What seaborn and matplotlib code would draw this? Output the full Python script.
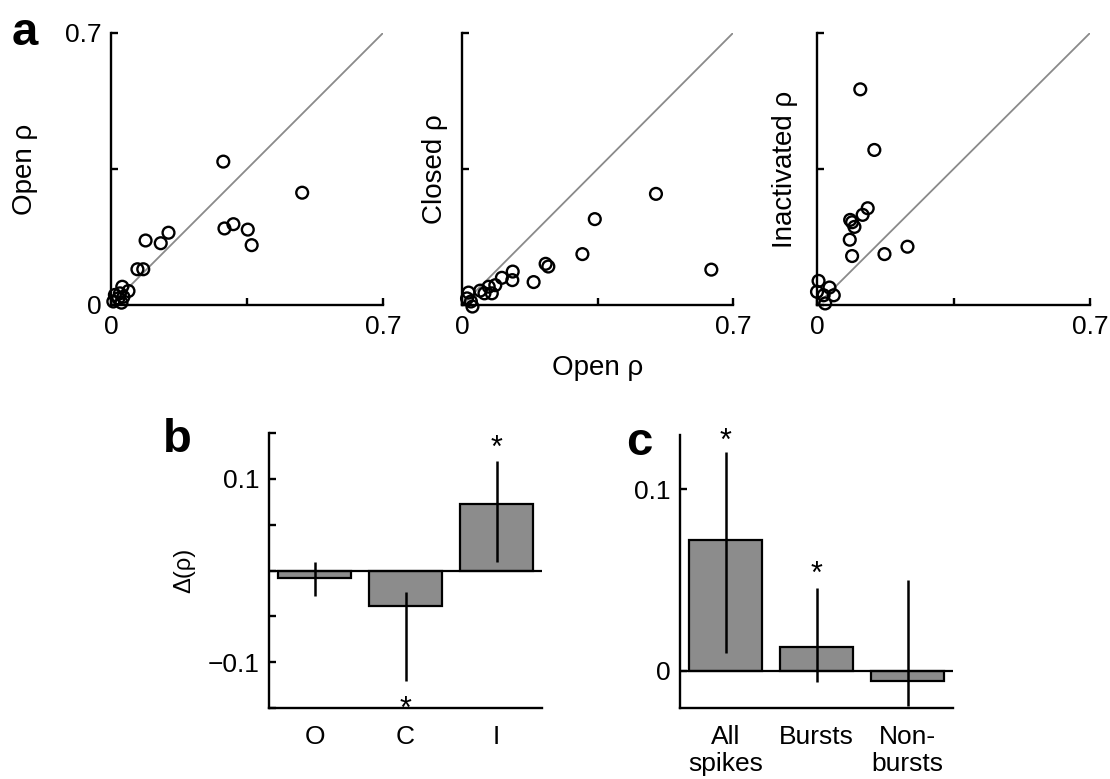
import matplotlib
matplotlib.use("Agg")
import matplotlib.pyplot as plt
import seaborn as sns
import pandas as pd

# panel a data: (open rho, other rho)
open_vs_open_x = [0.289, 0.492, 0.292, 0.315, 0.352, 0.362, 0.089, 0.128, 0.148, 0.068, 0.083,
                  0.045, 0.029, 0.010, 0.019, 0.027, 0.023, 0.006, 0.032]
open_vs_open_y = [0.369, 0.289, 0.197, 0.208, 0.194, 0.154, 0.166, 0.159, 0.186, 0.092, 0.092,
                  0.036, 0.047, 0.026, 0.017, 0.006, 0.030, 0.009, 0.021]

closed_x = [0.501, 0.644, 0.343, 0.311, 0.216, 0.223, 0.185, 0.131, 0.130, 0.103, 0.086,
            0.069, 0.077, 0.047, 0.058, 0.017, 0.013, 0.023, 0.027]
closed_y = [0.286, 0.091, 0.221, 0.131, 0.106, 0.099, 0.059, 0.086, 0.064, 0.070, 0.051,
            0.047, 0.030, 0.037, 0.030, 0.032, 0.017, 0.009, -0.004]

inact_x = [0.111, 0.147, 0.130, 0.117, 0.085, 0.090, 0.096, 0.084, 0.090, 0.173, 0.232,
           0.004, 0.000, 0.032, 0.043, 0.017, 0.021]
inact_y = [0.555, 0.399, 0.249, 0.232, 0.219, 0.213, 0.201, 0.168, 0.126, 0.131, 0.150,
           0.062, 0.034, 0.045, 0.025, 0.025, 0.004]

# panel b data
b_labels = ["O", "C", "I"]
b_values = [-0.008, -0.039, 0.0725]
b_err_low = [-0.0275, -0.121, 0.0095]
b_err_high = [0.0095, -0.023, 0.120]
b_star = [None, -0.143, 0.142]

# panel c data
c_labels = ["All\nspikes", "Bursts", "Non-\nbursts"]
c_values = [0.0721, 0.0132, -0.0055]
c_err_low = [0.0097, -0.0059, -0.0193]
c_err_high = [0.1204, 0.0459, 0.0501]
c_star = [0.131, 0.0574, None]

sns.set_style("ticks")
plt.rcParams["font.family"] = ["Liberation Sans", "DejaVu Sans"]
plt.rcParams["text.color"] = "black"
plt.rcParams["axes.labelcolor"] = "black"
plt.rcParams["xtick.color"] = "black"
plt.rcParams["ytick.color"] = "black"

fig = plt.figure(figsize=(11.1, 7.79), dpi=100)

W, H = 1110, 779


def add_ax(left, top, right, bottom):
    return fig.add_axes([left / W, 1 - bottom / H, (right - left) / W, (bottom - top) / H])


def style_ax(ax):
    sns.despine(ax=ax)
    for s in ["left", "bottom"]:
        ax.spines[s].set_linewidth(1.7)
        ax.spines[s].set_color("black")
    ax.tick_params(direction="in", length=5, width=1.7, colors="black", labelsize=19, pad=7)


lim = 0.7
scatter_sets = [
    (open_vs_open_x, open_vs_open_y, "Open ρ", 111, 383, -0.27),
    (closed_x, closed_y, "Closed ρ", 462, 733, -0.05),
    (inact_x, inact_y, "Inactivated ρ", 817, 1090, -0.07),
]
for i, (xs, ys, ylab, l, r, lx) in enumerate(scatter_sets):
    ax = add_ax(l, 33, r, 305)
    ax.plot([0, lim], [0, lim], color="#8a8a8a", lw=1.3, zorder=1)
    df = pd.DataFrame({"x": xs, "y": ys})
    sns.scatterplot(data=df, x="x", y="y", ax=ax, facecolor="none", edgecolor="black",
                    s=72, linewidth=1.7, clip_on=False, zorder=3)
    ax.set_xlim(0, lim)
    ax.set_ylim(0, lim)
    style_ax(ax)
    ax.set_xticks([0, lim / 2, lim])
    ax.set_xticklabels(["0", "", "0.7"])
    ax.set_yticks([0, lim / 2, lim])
    if i == 0:
        ax.set_yticklabels(["0", "", "0.7"])
    else:
        ax.set_yticklabels(["", "", ""])
    ax.set_ylabel(ylab, fontsize=20)
    ax.yaxis.set_label_coords(lx, 0.5)
    ax.set_xlabel("Open ρ" if i == 1 else "", fontsize=20, labelpad=12)

fig.text(12 / W, 1 - 33 / H, "a", fontsize=34, fontweight="bold", va="center")


def bar_panel(ax, labels, values, lo, hi, stars, ylim):
    df = pd.DataFrame({"cat": labels, "val": values})
    sns.barplot(data=df, x="cat", y="val", ax=ax, color="#8c8c8c", saturation=1,
                edgecolor="black", linewidth=1.6, width=0.8, errorbar=None, zorder=2)
    for k in range(len(labels)):
        ax.vlines(k, lo[k], hi[k], color="black", lw=1.8, zorder=3, clip_on=False)
        if stars[k] is not None:
            ax.annotate("*", (k, stars[k]), xytext=(0, -6), textcoords="offset points",
                        ha="center", va="center", fontsize=22, annotation_clip=False)
    ax.axhline(0, color="black", lw=1.6, zorder=4)
    ax.set_xlim(-0.5, 2.5)
    ax.set_ylim(*ylim)
    style_ax(ax)
    ax.tick_params(axis="x", length=0, pad=12)
    ax.set_xlabel("")


axb = add_ax(269, 433, 542, 708)
bar_panel(axb, b_labels, b_values, b_err_low, b_err_high, b_star, (-0.15, 0.15))
axb.set_yticks([-0.15, -0.1, -0.05, 0, 0.05, 0.1, 0.15])
axb.set_yticklabels(["", "\u22120.1", "", "", "", "0.1", ""])
axb.set_ylabel("Δ(ρ)", fontsize=17)
axb.yaxis.set_label_coords(-0.27, 0.5)
fig.text(163 / W, 1 - 440 / H, "b", fontsize=34, fontweight="bold", va="center")

axc = add_ax(680, 435, 953, 708)
bar_panel(axc, c_labels, c_values, c_err_low, c_err_high, c_star, (-0.0205, 0.13))
axc.set_yticks([0, 0.1])
axc.set_yticklabels(["0", "0.1"])
axc.set_ylabel("")
fig.text(626 / W, 1 - 443 / H, "c", fontsize=34, fontweight="bold", va="center")

fig.savefig("out.png", dpi=100)
